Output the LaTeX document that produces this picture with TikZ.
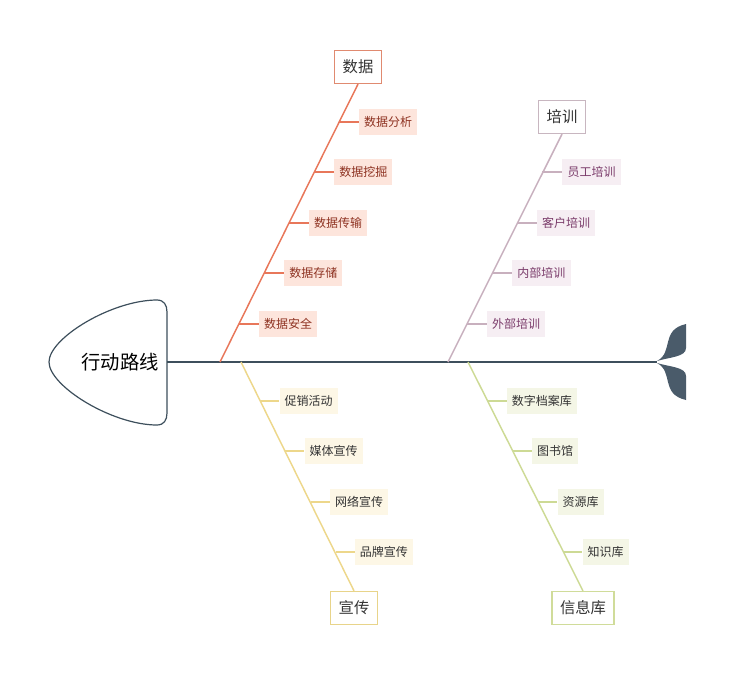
\documentclass[tikz,border=0pt]{standalone}
\usepackage{fontspec}
\setmainfont{Noto Sans CJK SC}
\definecolor{spine}{HTML}{3D4F5C}
\definecolor{tailc}{HTML}{4A5B6A}
\definecolor{dline}{HTML}{E8775A}
\definecolor{dbox}{HTML}{E08A70}
\definecolor{dfill}{HTML}{FDE5DC}
\definecolor{dtext}{HTML}{8E3221}
\definecolor{tline}{HTML}{C8B0BE}
\definecolor{tbox}{HTML}{C8B6C0}
\definecolor{tfill}{HTML}{F6EEF3}
\definecolor{ttext}{HTML}{7A3B6A}
\definecolor{pline}{HTML}{EDD78B}
\definecolor{pbox}{HTML}{E8D48A}
\definecolor{pfill}{HTML}{FDF7E6}
\definecolor{lline}{HTML}{CDDA95}
\definecolor{lbox}{HTML}{D0DC9A}
\definecolor{lfill}{HTML}{F4F6E6}
\definecolor{txt}{HTML}{333333}
\tikzset{
  mainbox/.style={draw=#1, fill=white, line width=0.9pt, font=\fontsize{11.5}{13}\selectfont, text=txt, minimum height=24.75pt, inner xsep=6pt},
  subbox/.style={fill=#1, font=\fontsize{9}{11}\selectfont, minimum height=19.5pt, inner xsep=3.8pt, anchor=west},
  bone/.style={draw=#1, line width=1.1pt},
}
\begin{document}
\begin{tikzpicture}[x=0.75pt,y=-0.75pt]
\useasboundingbox (0,0) rectangle (737,675);
% head
\draw[spine, line width=0.9pt, fill=white] (157,300) .. controls (112,300) and (49,338) .. (49,362) .. controls (49,386) and (112,425) .. (157,425) .. controls (164,425) and (167,420) .. (167,413) -- (167,312) .. controls (167,305) and (164,300) .. (157,300);
\node[font=\fontsize{14.5}{17}\selectfont, text=black] (head) at (120,362) {行动路线};
\coordinate (hr) at (167,362);
\coordinate (tip) at (657,362);
% spine
\draw[spine, line width=1.3pt] (hr) -- (tip);
% tail
\fill[tailc] (657,361) .. controls (674,352) and (660,330) .. (686,324) -- (686,348) .. controls (686,357) and (670,357) .. (657,361) -- cycle;
\fill[tailc] (657,363) .. controls (674,372) and (660,394) .. (686,400) -- (686,376) .. controls (686,367) and (670,367) .. (657,363) -- cycle;
% spine points
\coordinate (sd) at (220,362);
\coordinate (st) at (448,362);
\coordinate (sp) at (241,362);
\coordinate (sl) at (468,362);
% main boxes
\node[mainbox=dbox] (data) at (358,67) {数据};
\node[mainbox=tbox] (train) at (562,117) {培训};
\node[mainbox=pbox] (pub) at (354,608) {宣传};
\node[mainbox=lbox] (lib) at (583,608) {信息库};
% bones
\draw[bone=dline] (data.south) -- (sd);
\draw[bone=tline] (train.south) -- (st);
\draw[bone=pline] (pub.north) -- (sp);
\draw[bone=lline] (lib.north) -- (sl);
% data subs
\foreach \n/\x/\y/\t in {d1/338.7/122/数据分析, d2/314.0/172/数据挖掘, d3/288.8/223/数据传输, d4/264.0/273/数据存储, d5/238.8/324/数据安全}{
  \coordinate (\n t) at (\x,\y);
  \node[subbox=dfill, text=dtext] (\n) at (\x+20,\y) {\t};
  \draw[bone=dline] (\n t) -- (\n.west);
}
% training subs
\foreach \n/\x/\y/\t in {t1/542.2/172/员工培训, t2/516.9/223/客户培训, t3/492.1/273/内部培训, t4/466.8/324/外部培训}{
  \coordinate (\n t) at (\x,\y);
  \node[subbox=tfill, text=ttext] (\n) at (\x+20,\y) {\t};
  \draw[bone=tline] (\n t) -- (\n.west);
}
% publicity subs
\foreach \n/\x/\y/\t in {p1/260.4/401/促销活动, p2/285.3/451/媒体宣传, p3/310.7/502/网络宣传, p4/335.6/552/品牌宣传}{
  \coordinate (\n t) at (\x,\y);
  \node[subbox=pfill, text=txt] (\n) at (\x+19,\y) {\t};
  \draw[bone=pline] (\n t) -- (\n.west);
}
% library subs
\foreach \n/\x/\y/\t in {l1/487.6/401/数字档案库, l2/512.7/451/图书馆, l3/538.3/502/资源库, l4/563.4/552/知识库}{
  \coordinate (\n t) at (\x,\y);
  \node[subbox=lfill, text=txt] (\n) at (\x+19,\y) {\t};
  \draw[bone=lline] (\n t) -- (\n.west);
}
\end{tikzpicture}
\end{document}
